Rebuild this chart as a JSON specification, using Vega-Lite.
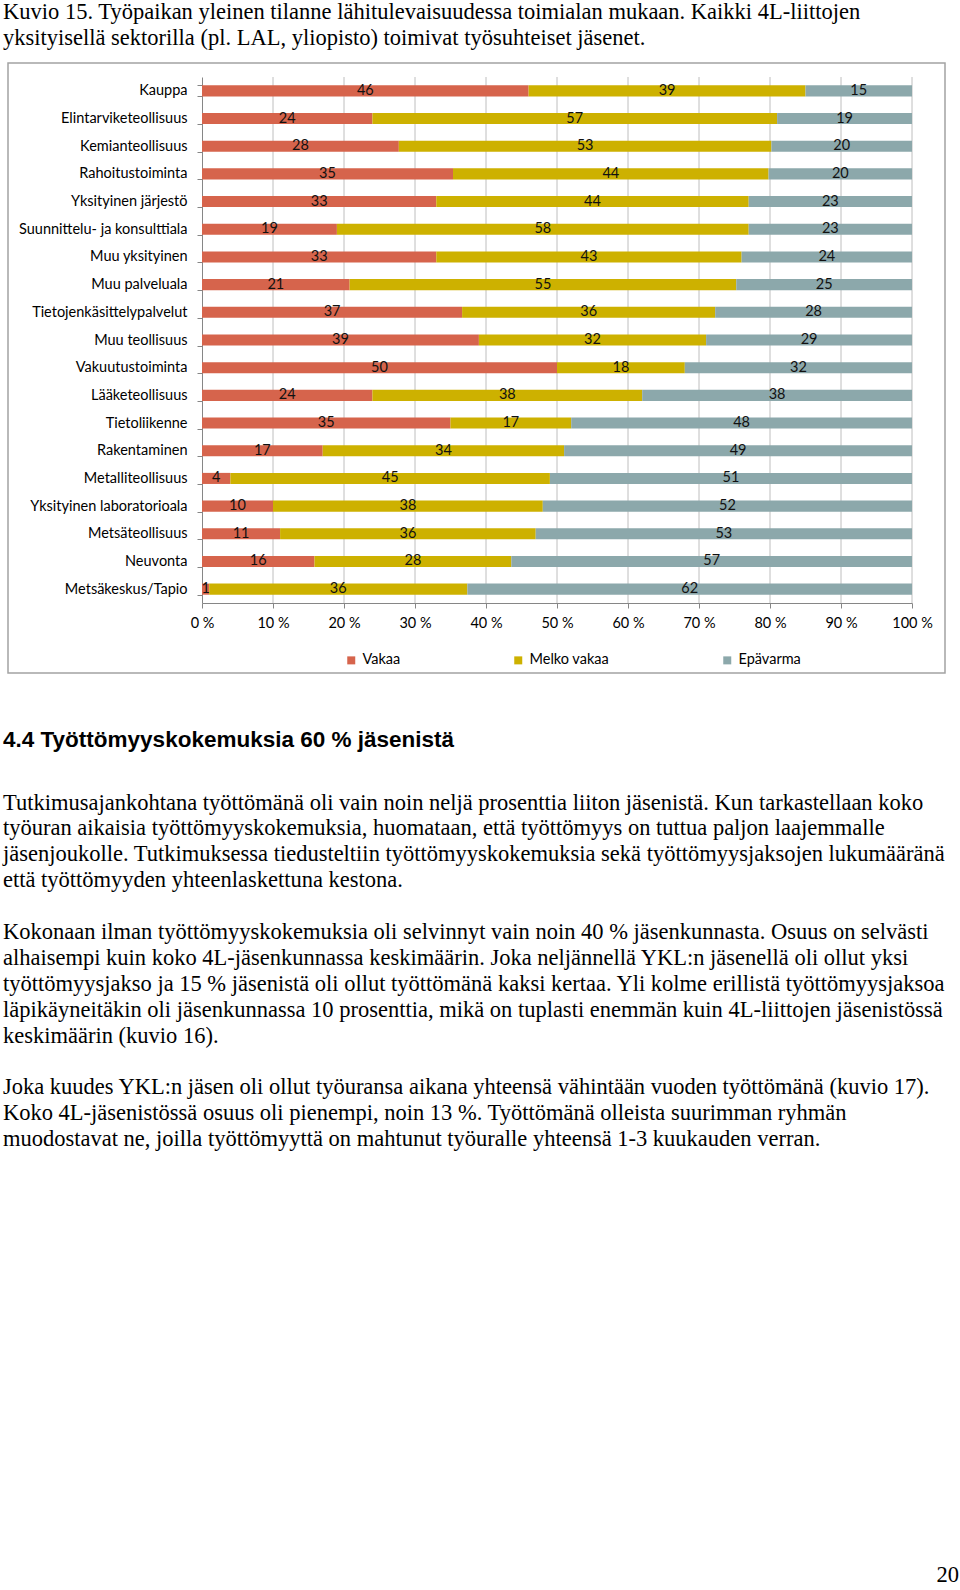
{
  "$schema": "https://vega.github.io/schema/vega-lite/v6.json",
  "background": "white",
  "padding": {"left": 2, "top": 0, "right": 0, "bottom": 0},
  "bounds": "flush",
  "spacing": 20,
  "config": {
    "font": "Lato",
    "view": {"stroke": "#A3A3A3", "strokeWidth": 1.5}
  },
  "datasets": {
    "survey": [
      {"cat": "Kauppa", "series": "Vakaa", "value": 46},
      {"cat": "Kauppa", "series": "Melko vakaa", "value": 39},
      {"cat": "Kauppa", "series": "Epävarma", "value": 15},
      {"cat": "Elintarviketeollisuus", "series": "Vakaa", "value": 24},
      {"cat": "Elintarviketeollisuus", "series": "Melko vakaa", "value": 57},
      {"cat": "Elintarviketeollisuus", "series": "Epävarma", "value": 19},
      {"cat": "Kemianteollisuus", "series": "Vakaa", "value": 28},
      {"cat": "Kemianteollisuus", "series": "Melko vakaa", "value": 53},
      {"cat": "Kemianteollisuus", "series": "Epävarma", "value": 20},
      {"cat": "Rahoitustoiminta", "series": "Vakaa", "value": 35},
      {"cat": "Rahoitustoiminta", "series": "Melko vakaa", "value": 44},
      {"cat": "Rahoitustoiminta", "series": "Epävarma", "value": 20},
      {"cat": "Yksityinen järjestö", "series": "Vakaa", "value": 33},
      {"cat": "Yksityinen järjestö", "series": "Melko vakaa", "value": 44},
      {"cat": "Yksityinen järjestö", "series": "Epävarma", "value": 23},
      {"cat": "Suunnittelu- ja konsulttiala", "series": "Vakaa", "value": 19},
      {"cat": "Suunnittelu- ja konsulttiala", "series": "Melko vakaa", "value": 58},
      {"cat": "Suunnittelu- ja konsulttiala", "series": "Epävarma", "value": 23},
      {"cat": "Muu yksityinen", "series": "Vakaa", "value": 33},
      {"cat": "Muu yksityinen", "series": "Melko vakaa", "value": 43},
      {"cat": "Muu yksityinen", "series": "Epävarma", "value": 24},
      {"cat": "Muu palveluala", "series": "Vakaa", "value": 21},
      {"cat": "Muu palveluala", "series": "Melko vakaa", "value": 55},
      {"cat": "Muu palveluala", "series": "Epävarma", "value": 25},
      {"cat": "Tietojenkäsittelypalvelut", "series": "Vakaa", "value": 37},
      {"cat": "Tietojenkäsittelypalvelut", "series": "Melko vakaa", "value": 36},
      {"cat": "Tietojenkäsittelypalvelut", "series": "Epävarma", "value": 28},
      {"cat": "Muu teollisuus", "series": "Vakaa", "value": 39},
      {"cat": "Muu teollisuus", "series": "Melko vakaa", "value": 32},
      {"cat": "Muu teollisuus", "series": "Epävarma", "value": 29},
      {"cat": "Vakuutustoiminta", "series": "Vakaa", "value": 50},
      {"cat": "Vakuutustoiminta", "series": "Melko vakaa", "value": 18},
      {"cat": "Vakuutustoiminta", "series": "Epävarma", "value": 32},
      {"cat": "Lääketeollisuus", "series": "Vakaa", "value": 24},
      {"cat": "Lääketeollisuus", "series": "Melko vakaa", "value": 38},
      {"cat": "Lääketeollisuus", "series": "Epävarma", "value": 38},
      {"cat": "Tietoliikenne", "series": "Vakaa", "value": 35},
      {"cat": "Tietoliikenne", "series": "Melko vakaa", "value": 17},
      {"cat": "Tietoliikenne", "series": "Epävarma", "value": 48},
      {"cat": "Rakentaminen", "series": "Vakaa", "value": 17},
      {"cat": "Rakentaminen", "series": "Melko vakaa", "value": 34},
      {"cat": "Rakentaminen", "series": "Epävarma", "value": 49},
      {"cat": "Metalliteollisuus", "series": "Vakaa", "value": 4},
      {"cat": "Metalliteollisuus", "series": "Melko vakaa", "value": 45},
      {"cat": "Metalliteollisuus", "series": "Epävarma", "value": 51},
      {"cat": "Yksityinen laboratorioala", "series": "Vakaa", "value": 10},
      {"cat": "Yksityinen laboratorioala", "series": "Melko vakaa", "value": 38},
      {"cat": "Yksityinen laboratorioala", "series": "Epävarma", "value": 52},
      {"cat": "Metsäteollisuus", "series": "Vakaa", "value": 11},
      {"cat": "Metsäteollisuus", "series": "Melko vakaa", "value": 36},
      {"cat": "Metsäteollisuus", "series": "Epävarma", "value": 53},
      {"cat": "Neuvonta", "series": "Vakaa", "value": 16},
      {"cat": "Neuvonta", "series": "Melko vakaa", "value": 28},
      {"cat": "Neuvonta", "series": "Epävarma", "value": 57},
      {"cat": "Metsäkeskus/Tapio", "series": "Vakaa", "value": 1},
      {"cat": "Metsäkeskus/Tapio", "series": "Melko vakaa", "value": 36},
      {"cat": "Metsäkeskus/Tapio", "series": "Epävarma", "value": 62}
    ],
    "gridlines": [
      {"pct": 0.1}, {"pct": 0.2}, {"pct": 0.3}, {"pct": 0.4}, {"pct": 0.5},
      {"pct": 0.6}, {"pct": 0.7}, {"pct": 0.8}, {"pct": 0.9}, {"pct": 1.0}
    ]
  },
  "vconcat": [
    {
      "width": 937,
      "height": 610,
      "data": {"name": "survey"},
      "title": {
        "text": [
          "Kuvio 15. Työpaikan yleinen tilanne lähitulevaisuudessa toimialan mukaan. Kaikki 4L-liittojen",
          "yksityisellä sektorilla (pl. LAL, yliopisto) toimivat työsuhteiset jäsenet."
        ],
        "anchor": "start",
        "frame": "group",
        "dx": -5,
        "offset": 5.5,
        "font": "Liberation Serif",
        "fontSize": 22.5,
        "fontWeight": "normal",
        "lineHeight": 26,
        "color": "#000000"
      },
      "layer": [
        {
          "data": {"name": "gridlines"},
          "mark": {"type": "rule", "color": "#BEBEBE", "strokeWidth": 1, "yOffset": -13.84, "y2Offset": 13.84},
          "encoding": {
            "x": {
              "field": "pct",
              "type": "quantitative",
              "title": null,
              "scale": {"range": [194, 904]},
              "axis": {
                "orient": "bottom",
                "offset": -70,
                "values": [0, 0.1, 0.2, 0.3, 0.4, 0.5, 0.6, 0.7, 0.8, 0.9, 1],
                "labelExpr": "round(datum.value * 100) + ' %'",
                "tickSize": 5,
                "domainColor": "#868686",
                "tickColor": "#868686",
                "grid": false,
                "labelFont": "Lato",
                "labelFontSize": 14.5,
                "labelColor": "#000000",
                "labelPadding": 8,
                "labelFlush": false,
                "labelOverlap": false
              }
            },
            "y": {
              "datum": "Kauppa",
              "type": "nominal",
              "title": null,
              "scale": {
                "domain": ["Kauppa", "Elintarviketeollisuus", "Kemianteollisuus", "Rahoitustoiminta", "Yksityinen järjestö", "Suunnittelu- ja konsulttiala", "Muu yksityinen", "Muu palveluala", "Tietojenkäsittelypalvelut", "Muu teollisuus", "Vakuutustoiminta", "Lääketeollisuus", "Tietoliikenne", "Rakentaminen", "Metalliteollisuus", "Yksityinen laboratorioala", "Metsäteollisuus", "Neuvonta", "Metsäkeskus/Tapio"],
                "range": [14, 540], "paddingInner": 0.6, "paddingOuter": 0.3
              },
              "axis": {
                "offset": -194,
                "tickBand": "extent",
                "tickSize": 5,
                "domainColor": "#868686",
                "tickColor": "#868686",
                "labelFont": "Lato",
                "labelFontSize": 14.5,
                "labelColor": "#000000",
                "labelPadding": 10,
                "labelLimit": 400,
                "grid": false
              }
            },
            "y2": {"datum": "Metsäkeskus/Tapio"}
          }
        },
        {
          "mark": {"type": "bar"},
          "encoding": {
            "x": {
              "field": "value",
              "type": "quantitative",
              "stack": "normalize",
              "title": null,
              "scale": {"range": [194, 904]},
              "axis": {
                "orient": "bottom",
                "offset": -70,
                "values": [0, 0.1, 0.2, 0.3, 0.4, 0.5, 0.6, 0.7, 0.8, 0.9, 1],
                "labelExpr": "round(datum.value * 100) + ' %'",
                "tickSize": 5,
                "domainColor": "#868686",
                "tickColor": "#868686",
                "grid": false,
                "labelFont": "Lato",
                "labelFontSize": 14.5,
                "labelColor": "#000000",
                "labelPadding": 8,
                "labelFlush": false,
                "labelOverlap": false
              }
            },
            "y": {
              "field": "cat",
              "type": "nominal",
              "sort": null,
              "title": null,
              "scale": {
                "domain": ["Kauppa", "Elintarviketeollisuus", "Kemianteollisuus", "Rahoitustoiminta", "Yksityinen järjestö", "Suunnittelu- ja konsulttiala", "Muu yksityinen", "Muu palveluala", "Tietojenkäsittelypalvelut", "Muu teollisuus", "Vakuutustoiminta", "Lääketeollisuus", "Tietoliikenne", "Rakentaminen", "Metalliteollisuus", "Yksityinen laboratorioala", "Metsäteollisuus", "Neuvonta", "Metsäkeskus/Tapio"],
                "range": [14, 540], "paddingInner": 0.6, "paddingOuter": 0.3
              },
              "axis": {
                "offset": -194,
                "tickBand": "extent",
                "tickSize": 5,
                "domainColor": "#868686",
                "tickColor": "#868686",
                "labelFont": "Lato",
                "labelFontSize": 14.5,
                "labelColor": "#000000",
                "labelPadding": 10,
                "labelLimit": 400,
                "grid": false
              }
            },
            "color": {
              "field": "series",
              "type": "nominal",
              "scale": {
                "domain": ["Vakaa", "Melko vakaa", "Epävarma"],
                "range": ["#D6644C", "#CDB100", "#8CA8AB"]
              },
              "legend": {
                "title": null,
                "orient": "none",
                "legendX": 336,
                "legendY": 590,
                "direction": "horizontal",
                "symbolType": "square",
                "symbolSize": 64,
                "symbolStrokeWidth": 0,
                "labelFont": "Lato",
                "labelFontSize": 14.5,
                "labelColor": "#000000",
                "labelOffset": 4,
                "columnPadding": 110,
                "padding": 0
              }
            },
            "order": {"field": "series", "sort": "descending"}
          }
        },
        {
          "mark": {"type": "text", "font": "Lato", "fontSize": 14.5, "color": "#111111"},
          "encoding": {
            "x": {
              "field": "value",
              "type": "quantitative",
              "stack": "normalize",
              "bandPosition": 0.5,
              "title": null,
              "scale": {"range": [194, 904]},
              "axis": {
                "orient": "bottom",
                "offset": -70,
                "values": [0, 0.1, 0.2, 0.3, 0.4, 0.5, 0.6, 0.7, 0.8, 0.9, 1],
                "labelExpr": "round(datum.value * 100) + ' %'",
                "tickSize": 5,
                "domainColor": "#868686",
                "tickColor": "#868686",
                "grid": false,
                "labelFont": "Lato",
                "labelFontSize": 14.5,
                "labelColor": "#000000",
                "labelPadding": 8,
                "labelFlush": false,
                "labelOverlap": false
              }
            },
            "y": {
              "field": "cat",
              "type": "nominal",
              "sort": null,
              "title": null,
              "scale": {
                "domain": ["Kauppa", "Elintarviketeollisuus", "Kemianteollisuus", "Rahoitustoiminta", "Yksityinen järjestö", "Suunnittelu- ja konsulttiala", "Muu yksityinen", "Muu palveluala", "Tietojenkäsittelypalvelut", "Muu teollisuus", "Vakuutustoiminta", "Lääketeollisuus", "Tietoliikenne", "Rakentaminen", "Metalliteollisuus", "Yksityinen laboratorioala", "Metsäteollisuus", "Neuvonta", "Metsäkeskus/Tapio"],
                "range": [14, 540], "paddingInner": 0.6, "paddingOuter": 0.3
              },
              "axis": {
                "offset": -194,
                "tickBand": "extent",
                "tickSize": 5,
                "domainColor": "#868686",
                "tickColor": "#868686",
                "labelFont": "Lato",
                "labelFontSize": 14.5,
                "labelColor": "#000000",
                "labelPadding": 10,
                "labelLimit": 400,
                "grid": false
              }
            },
            "detail": {"field": "series"},
            "order": {"field": "series", "sort": "descending"},
            "text": {"field": "value", "type": "quantitative"}
          }
        }
      ]
    },
    {
      "width": 937,
      "height": 10,
      "view": {"stroke": null},
      "data": {"values": []},
      "mark": "rule",
      "encoding": {},
      "title": {
        "text": "4.4 Työttömyyskokemuksia 60 % jäsenistä",
        "subtitle": [
          "Tutkimusajankohtana työttömänä oli vain noin neljä prosenttia liiton jäsenistä. Kun tarkastellaan koko",
          "työuran aikaisia työttömyyskokemuksia, huomataan, että työttömyys on tuttua paljon laajemmalle",
          "jäsenjoukolle. Tutkimuksessa tiedusteltiin työttömyyskokemuksia sekä työttömyysjaksojen lukumääränä",
          "että työttömyyden yhteenlaskettuna kestona."
        ],
        "orient": "bottom",
        "anchor": "start",
        "frame": "group",
        "dx": -5,
        "offset": 26,
        "font": "Liberation Sans",
        "fontSize": 22.5,
        "fontWeight": "bold",
        "color": "#000000",
        "subtitleFont": "Liberation Serif",
        "subtitleFontSize": 22.5,
        "subtitleFontWeight": "normal",
        "subtitleColor": "#000000",
        "subtitleLineHeight": 25.85,
        "subtitlePadding": 40
      }
    },
    {
      "width": 937,
      "height": 10,
      "view": {"stroke": null},
      "data": {"values": []},
      "mark": "rule",
      "encoding": {},
      "title": {
        "text": [
          "Kokonaan ilman työttömyyskokemuksia oli selvinnyt vain noin 40 % jäsenkunnasta. Osuus on selvästi",
          "alhaisempi kuin koko 4L-jäsenkunnassa keskimäärin. Joka neljännellä YKL:n jäsenellä oli ollut yksi",
          "työttömyysjakso ja 15 % jäsenistä oli ollut työttömänä kaksi kertaa. Yli kolme erillistä työttömyysjaksoa",
          "läpikäyneitäkin oli jäsenkunnassa 10 prosenttia, mikä on tuplasti enemmän kuin 4L-liittojen jäsenistössä",
          "keskimäärin (kuvio 16)."
        ],
        "orient": "bottom",
        "anchor": "start",
        "frame": "group",
        "dx": -5,
        "offset": 188.3,
        "font": "Liberation Serif",
        "fontSize": 22.5,
        "fontWeight": "normal",
        "lineHeight": 25.85,
        "color": "#000000"
      }
    },
    {
      "width": 937,
      "height": 10,
      "view": {"stroke": null},
      "data": {"values": []},
      "mark": "rule",
      "encoding": {},
      "title": {
        "text": [
          "Joka kuudes YKL:n jäsen oli ollut työuransa aikana yhteensä vähintään vuoden työttömänä (kuvio 17).",
          "Koko 4L-jäsenistössä osuus oli pienempi, noin 13 %. Työttömänä olleista suurimman ryhmän",
          "muodostavat ne, joilla työttömyyttä on mahtunut työuralle yhteensä 1-3 kuukauden verran."
        ],
        "orient": "bottom",
        "anchor": "start",
        "frame": "group",
        "dx": -5,
        "offset": 313.4,
        "font": "Liberation Serif",
        "fontSize": 22.5,
        "fontWeight": "normal",
        "lineHeight": 25.85,
        "color": "#000000"
      }
    },
    {
      "width": 937,
      "height": 10,
      "view": {"stroke": null},
      "data": {"values": []},
      "mark": "rule",
      "encoding": {},
      "title": {
        "text": "20",
        "orient": "bottom",
        "anchor": "end",
        "frame": "group",
        "dx": 14,
        "offset": 771,
        "font": "Liberation Serif",
        "fontSize": 22.5,
        "fontWeight": "normal",
        "color": "#000000"
      }
    }
  ]
}
